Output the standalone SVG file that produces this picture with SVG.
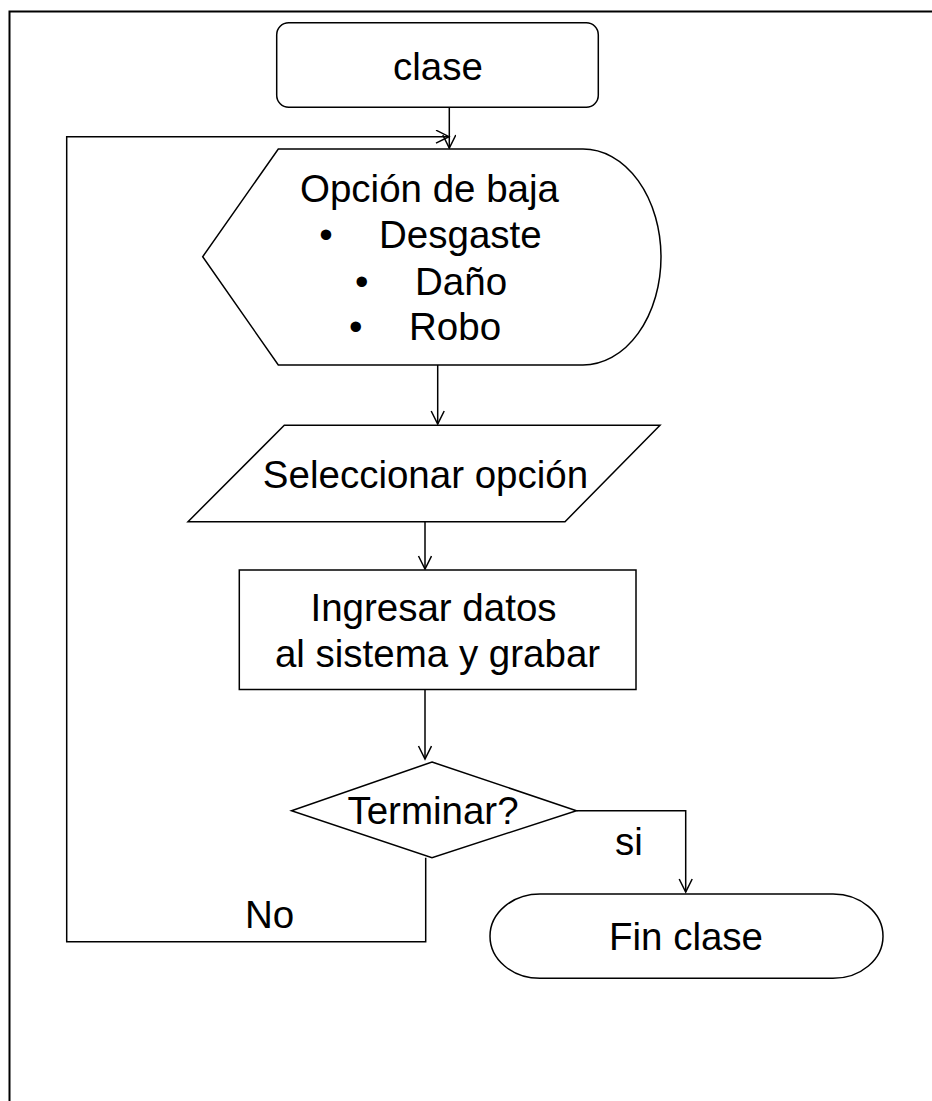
<svg xmlns="http://www.w3.org/2000/svg" width="932" height="1101" viewBox="0 0 932 1101">
<style>
.s{fill:#fff;stroke:#000;stroke-width:1.5}
.c{fill:none;stroke:#000;stroke-width:1.5}
text{font-family:"Liberation Sans",Arial,sans-serif;font-size:38.5px;fill:#000}
.m{text-anchor:middle}
</style>
<defs>
<marker id="ar" markerUnits="userSpaceOnUse" markerWidth="16" markerHeight="16" refX="14" refY="7" orient="auto">
<path d="M1,0.5 L14,7 L1,13.5" fill="none" stroke="#000" stroke-width="1.5"/>
</marker>
</defs>
<rect width="932" height="1101" fill="#fff"/>
<g id="frame">
<path d="M9.5,1101 V11.5 H932" fill="none" stroke="#000" stroke-width="2"/>
</g>
<g id="connectors">
<line class="c" x1="449.3" y1="107.3" x2="449.3" y2="148" marker-end="url(#ar)"/>
<path class="c" d="M425.7,857.7 V941.7 H66.7 V136.7 H449" marker-end="url(#ar)"/>
<line class="c" x1="437.7" y1="365" x2="437.7" y2="424" marker-end="url(#ar)"/>
<line class="c" x1="425" y1="521.7" x2="425" y2="569" marker-end="url(#ar)"/>
<line class="c" x1="425" y1="690" x2="425" y2="759" marker-end="url(#ar)"/>
<path class="c" d="M576.5,810.7 H685.7 V892" marker-end="url(#ar)"/>
<text x="615" y="855">si</text>
<text x="245" y="927.7">No</text>
</g>
<g id="n-clase">
<rect class="s" x="276.7" y="22.7" width="321.6" height="84.6" rx="12" ry="12"/>
<text class="m" x="438" y="80">clase</text>
</g>
<g id="n-opcion">
<path class="s" d="M278.3,149 H583 A78,108 0 0 1 583,365 H278.3 L202.7,256.7 Z"/>
<text x="300" y="201.7">Opción de baja</text>
<text class="m" x="326" y="248">•</text>
<text x="379" y="248">Desgaste</text>
<text class="m" x="361.7" y="295">•</text>
<text x="415" y="295">Daño</text>
<text class="m" x="355.7" y="340">•</text>
<text x="409" y="340">Robo</text>
</g>
<g id="n-seleccionar">
<path class="s" d="M284.3,425.3 H660 L565,521.7 H188 Z"/>
<text class="m" x="425.5" y="487.7">Seleccionar opción</text>
</g>
<g id="n-ingresar">
<rect class="s" x="239.3" y="570" width="396.7" height="119.5"/>
<text class="m" x="433.5" y="621">Ingresar datos</text>
<text class="m" x="437.5" y="666.7">al sistema y grabar</text>
</g>
<g id="n-terminar">
<path class="s" d="M432,762 L576.5,810.7 L432,857.7 L291.5,810.7 Z"/>
<text class="m" x="433" y="824">Terminar?</text>
</g>
<g id="n-fin">
<path class="s" d="M540,894 H833 A50,42.15 0 0 1 833,978.3 H540 A50,42.15 0 0 1 540,894 Z"/>
<text class="m" x="686" y="950">Fin clase</text>
</g>
</svg>
